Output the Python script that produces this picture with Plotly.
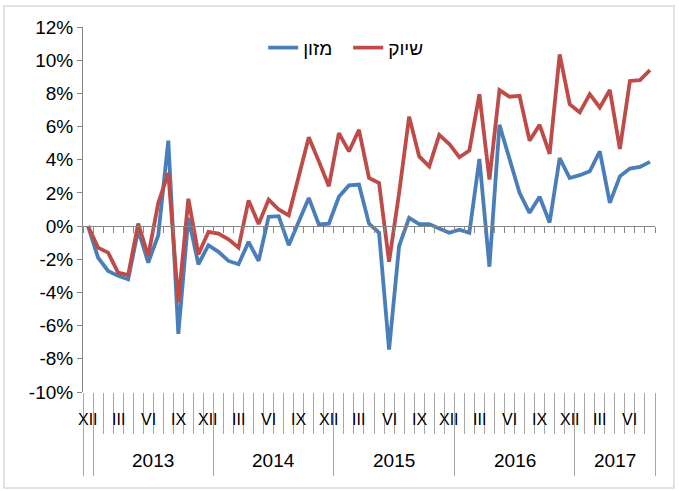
import plotly.graph_objects as go

# ---- data ----
months_idx = list(range(57))  # Dec 2012 .. Aug 2017, one category per month

food = [0, -1.9, -2.7, -3.0, -3.2, -0.25, -2.2, -0.55, 5.15, -6.5,
        0.5, -2.3, -1.15, -1.55, -2.1, -2.3, -0.95, -2.1, 0.56, 0.6,
        -1.15, 0.3, 1.7, 0.1, 0.15, 1.77, 2.45, 2.5, 0.15, -0.4,
        -7.45, -1.2, 0.5, 0.12, 0.12, -0.15, -0.4, -0.22, -0.4, 4.05,
        -2.45, 6.1, 4.1, 2.0, 0.8, 1.77, 0.22, 4.1, 2.9, 3.07,
        3.3, 4.5, 1.4, 3.0, 3.47, 3.57, 3.87]

marketing = [0, -1.3, -1.6, -2.8, -2.95, 0.15, -1.8, 1.4, 3.2, -4.6,
             1.65, -1.7, -0.35, -0.45, -0.8, -1.3, 1.55, 0.12, 1.6, 1.0,
             0.65, 2.9, 5.35, 3.9, 2.4, 5.6, 4.5, 5.8, 2.9, 2.6,
             -2.15, 2.0, 6.6, 4.2, 3.6, 5.5, 4.95, 4.15, 4.55, 7.95,
             2.8, 8.2, 7.8, 7.85, 5.15, 6.1, 4.35, 10.35, 7.35, 6.85,
             7.95, 7.15, 8.2, 4.65, 8.75, 8.8, 9.4]

series_names = ["מזון", "שיוק"]

month_labels = ["XII", "III", "VI", "IX", "XII", "III", "VI", "IX", "XII", "III",
                "VI", "IX", "XII", "III", "VI", "IX", "XII", "III", "VI"]
month_label_idx = list(range(0, 57, 3))

year_labels = ["2013", "2014", "2015", "2016", "2017"]
year_start_idx = [1, 13, 25, 37, 49]

y_tick_vals = [-10, -8, -6, -4, -2, 0, 2, 4, 6, 8, 10, 12]
y_tick_text = ["-10%", "-8%", "-6%", "-4%", "-2%", "0%", "2%", "4%", "6%", "8%", "10%", "12%"]

# ---- derived ----
n = len(months_idx)
boundaries = [i - 0.5 for i in range(n + 1)]
year_bounds = [-0.5] + [s - 0.5 for s in year_start_idx] + [n - 0.5]
year_ends = year_start_idx[1:] + [n]
year_centers = [(s + e - 1) / 2 for s, e in zip(year_start_idx, year_ends)]

FONT = "Liberation Sans, Arial, sans-serif"
AXIS_COLOR = "#868686"
SEP_COLOR = "#a6a6a6"
FS = 19
FS_MONTH = 16

fig = go.Figure()
fig.add_trace(go.Scatter(x=months_idx, y=food, mode="lines", name=series_names[0],
                         line=dict(color="#4A7EBB", width=3.8)))
fig.add_trace(go.Scatter(x=months_idx, y=marketing, mode="lines", name=series_names[1],
                         line=dict(color="#BE4B48", width=3.8)))
# dummy trace to carry the zero-line category axis
fig.add_trace(go.Scatter(x=[None], y=[None], xaxis="x2", showlegend=False, hoverinfo="skip"))

ymin, ymax = -10, 12
zero_pos = (0 - ymin) / (ymax - ymin)

fig.update_layout(
    width=679, height=491,
    margin=dict(l=83, r=24, t=27, b=99, autoexpand=False),
    paper_bgcolor="white", plot_bgcolor="white",
    font=dict(family=FONT, size=FS, color="black"),
    showlegend=True,
    legend=dict(orientation="h", x=0.315, y=0.995, xanchor="left", yanchor="top",
                font=dict(size=FS), bgcolor="rgba(0,0,0,0)", itemwidth=30,
                tracegroupgap=0, entrywidth=40),
    xaxis=dict(range=[-0.5, n - 0.5], showgrid=False, zeroline=False, showline=False,
               automargin=False,
               showticklabels=False, tickmode="array", tickvals=year_bounds,
               ticks="outside", ticklen=83, tickcolor=SEP_COLOR, tickwidth=1,
               minor=dict(tickmode="array", tickvals=boundaries, ticks="outside",
                          ticklen=41, tickcolor=SEP_COLOR, tickwidth=1, showgrid=False)),
    xaxis2=dict(range=[-0.5, n - 0.5], overlaying="x", anchor="free", position=zero_pos,
                side="bottom", showgrid=False, zeroline=False, showline=True,
                automargin=False,
                linecolor=AXIS_COLOR, linewidth=1, showticklabels=False,
                tickmode="array", tickvals=boundaries, ticks="outside", ticklen=6,
                tickcolor=AXIS_COLOR, tickwidth=1),
    yaxis=dict(range=[ymin, ymax], showgrid=False, zeroline=False, showline=True,
               automargin=False,
               linecolor=AXIS_COLOR, linewidth=1, ticks="outside", ticklen=5,
               tickcolor=AXIS_COLOR, tickmode="array", tickvals=y_tick_vals,
               ticktext=y_tick_text, tickfont=dict(size=FS)),
)

plot_h = 491 - 27 - 99
annotations = []
for lbl, i in zip(month_labels, month_label_idx):
    annotations.append(dict(x=i, y=-28 / plot_h, xref="x", yref="paper", text=lbl,
                            showarrow=False, xanchor="center", yanchor="middle",
                            font=dict(size=FS_MONTH, family=FONT)))
for lbl, c in zip(year_labels, year_centers):
    annotations.append(dict(x=c, y=-68 / plot_h, xref="x", yref="paper", text=lbl,
                            showarrow=False, xanchor="center", yanchor="middle",
                            font=dict(size=FS, family=FONT)))
fig.update_layout(annotations=annotations)

# outer chart border
fig.add_shape(type="rect", xref="paper", yref="paper",
              x0=(4 - 83) / 572, x1=(674 - 83) / 572,
              y0=(392 - 488) / plot_h, y1=(392 - 6) / plot_h,
              line=dict(color="#d9d9d9", width=1.5), fillcolor="rgba(0,0,0,0)", layer="below")

fig.write_html("out.html", config={"displayModeBar": False},
               post_script="document.body.style.margin='0px';")
